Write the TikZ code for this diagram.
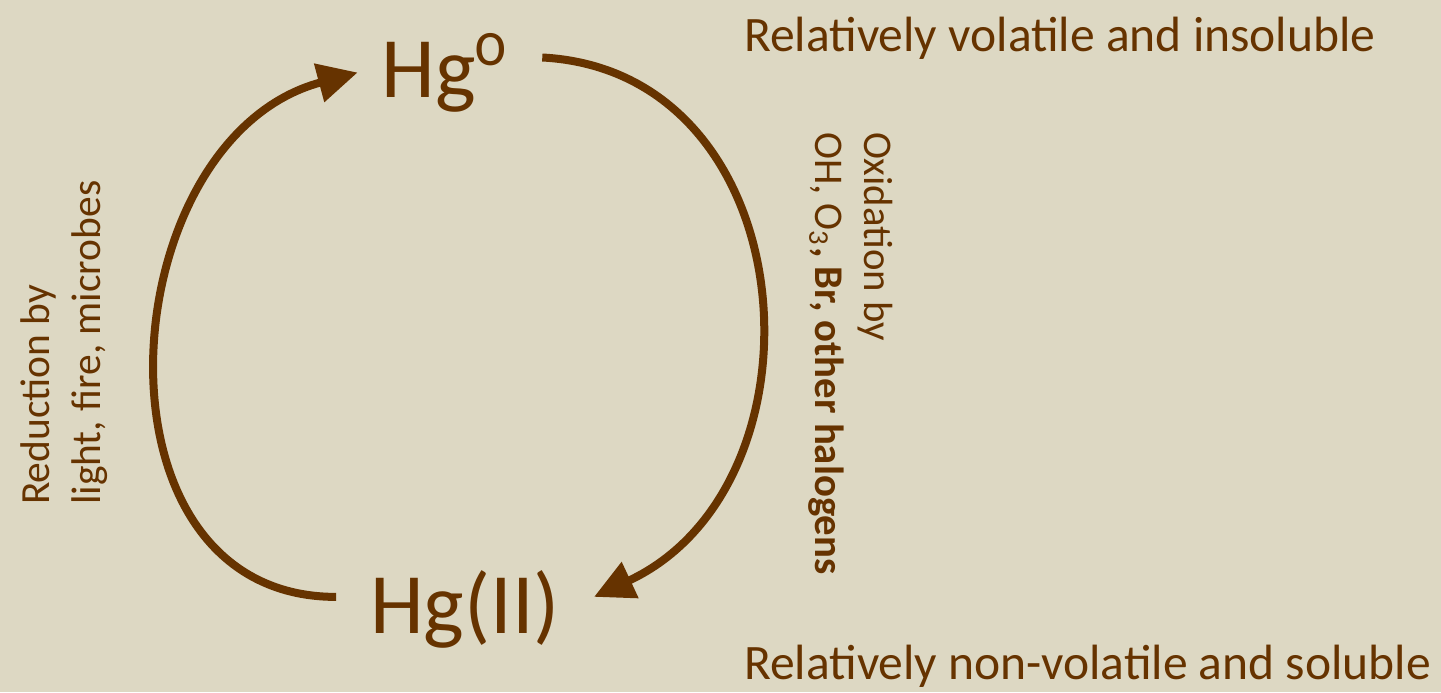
\documentclass[tikz,border=0pt]{standalone}
\usepackage{fontspec}
\setmainfont{Carlito}
\usetikzlibrary{arrows.meta}
\definecolor{HgBrown}{HTML}{663300}
\definecolor{HgTan}{HTML}{DDD8C3}

\begin{document}
\begin{tikzpicture}[line width=2.3pt,draw=HgBrown,text=HgBrown,
  species/.style={font=\fontsize{24.5}{28}\selectfont,inner xsep=0.3cm,inner ysep=0pt,anchor=base},
  cyc/.style={-{Triangle[length=0.4cm,width=0.38cm]},line width=0.08cm,looseness=1.25},
  remark/.style={font=\fontsize{14.1}{16}\selectfont,inner sep=0pt,anchor=base west},
  side/.style={font=\fontsize{11.8}{14.5}\selectfont,inner sep=0pt,align=left,anchor=west}]
  \fill[HgTan] (0,0) rectangle (14.41,6.92);
  \useasboundingbox (0,0) rectangle (14.41,6.92);

  % the two mercury species
  \node[species] (hg0) at (4.45,5.95) {Hg\textsuperscript{\addfontfeature{Numbers=OldStyle}0}};
  \node[species] (hg2) at (4.65,0.59) {Hg(II)};

  % oxidation and reduction
  \draw[cyc] ([yshift=0.15cm]hg0.east) to[out=-3,in=25] ([yshift=0.12cm]hg2.east);
  \draw[cyc] ([yshift=0.12cm]hg2.west) to[out=180,in=195] ([xshift=0.1cm]hg0.west);

  \node[side,rotate=90] (redlbl) at (0.64,1.83) {Reduction by\\light, fire, microbes};
  \node[side,rotate=-90,font=\fontsize{11.6}{14}\selectfont] (oxlbl) at (8.51,5.64)
    {Oxidation by\\OH, O\textsubscript{3}\textbf{, Br, other halogens}};

  \node[remark] (volat) at (7.4,6.41) {Relatively volatile and insoluble};
  \node[remark] (nonvol) at (7.4,0.13) {Relatively non-volatile and soluble};
\end{tikzpicture}
\end{document}
